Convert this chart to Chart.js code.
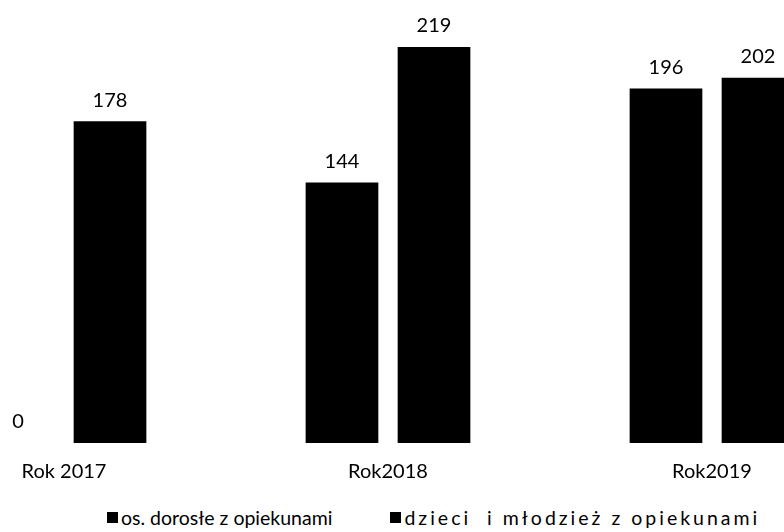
<!DOCTYPE html>
<html>
<head>
<meta charset="utf-8">
<script src="https://cdn.jsdelivr.net/npm/chart.js@4/dist/chart.umd.min.js"></script>
<style>
    html, body { margin: 0; padding: 0; background: #fff; }
    #frame { position: relative; width: 784px; height: 532px; overflow: hidden; font-family: Lato, sans-serif; }
    #plot { position: absolute; left: -98px; top: 0; width: 972px; height: 501px; }
    #legend { position: absolute; left: 107px; top: 506px; display: flex; gap: 58px; font-size: 19.5px; color: #000; white-space: pre; }
    #legend span.item { display: flex; align-items: center; }
    #legend span.item:last-child { letter-spacing: 3px; }
    #legend i { display: inline-block; width: 11px; height: 11px; background: #000; margin-right: 3px; }
</style>
</head>
<body>
<div id="frame">
    <div id="plot"><canvas id="barChart"></canvas></div>
    <div id="legend"></div>
</div>
<script>
// dane z wykresu
const years = ["Rok 2017", "Rok2018", "Rok2019"];
const seriesNames = ["os. dorosłe z opiekunami", "dzieci  i młodzież z opiekunami"];
const adults = [0, 144, 196];
const children = [178, 219, 202];

// etykiety wartości nad słupkami
const valueLabels = {
    id: "valueLabels",
    afterDatasetsDraw(chart) {
        const ctx = chart.ctx;
        ctx.save();
        ctx.font = "20px Lato";
        ctx.fillStyle = "#000";
        ctx.textAlign = "center";
        ctx.textBaseline = "middle";
        chart.data.datasets.forEach((ds, i) => {
            chart.getDatasetMeta(i).data.forEach((bar, j) => {
                ctx.fillText(ds.data[j], bar.x, bar.y - 21);
            });
        });
        ctx.restore();
    }
};

new Chart(document.getElementById("barChart"), {
    type: "bar",
    data: {
        labels: years,
        datasets: [
            { label: seriesNames[0], data: adults, backgroundColor: "#000" },
            { label: seriesNames[1], data: children, backgroundColor: "#000" }
        ]
    },
    options: {
        responsive: true,
        maintainAspectRatio: false,
        animation: false,
        categoryPercentage: 0.568,
        barPercentage: 0.79,
        layout: { padding: 0 },
        plugins: {
            legend: { display: false },
            tooltip: { enabled: false }
        },
        scales: {
            x: {
                grid: { display: false, drawTicks: false },
                border: { display: false },
                ticks: { color: "#000", font: { family: "Lato", size: 20 }, padding: 17, maxRotation: 0 }
            },
            y: {
                display: false,
                min: 0,
                max: 245
            }
        }
    },
    plugins: [valueLabels]
});

// legenda
const legend = document.getElementById("legend");
seriesNames.forEach(name => {
    const item = document.createElement("span");
    item.className = "item";
    item.innerHTML = "<i></i>" + name;
    legend.appendChild(item);
});
</script>
</body>
</html>
